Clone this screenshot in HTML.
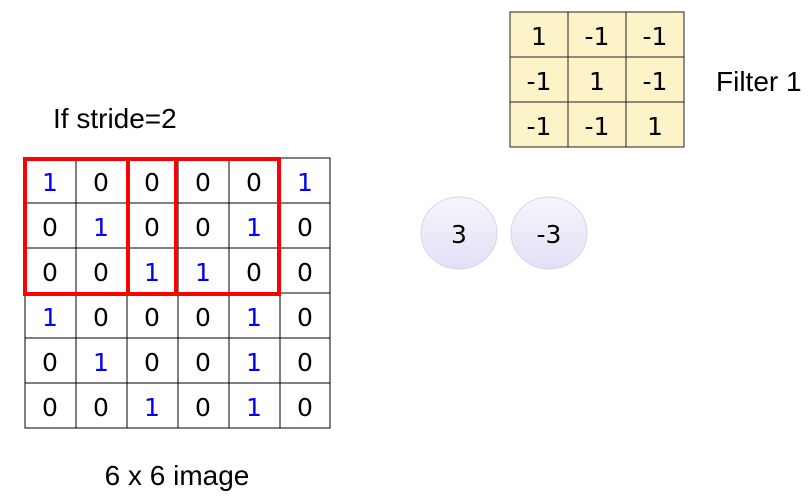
<!DOCTYPE html>
<html><head><style>body{margin:0;background:#fff}</style></head><body>
<svg width="810" height="495" xmlns="http://www.w3.org/2000/svg" font-family="Liberation Sans, sans-serif">
<defs><linearGradient id="g" x1="0" y1="0" x2="0" y2="1"><stop offset="0" stop-color="#f6f5fc"/><stop offset="1" stop-color="#e2e0f6"/></linearGradient></defs>
<g stroke="#000" stroke-width="1" fill="none">
<rect x="25" y="158" width="305" height="270"/>
<line x1="76" y1="158" x2="76" y2="428"/><line x1="127" y1="158" x2="127" y2="428"/><line x1="178" y1="158" x2="178" y2="428"/><line x1="229" y1="158" x2="229" y2="428"/><line x1="280" y1="158" x2="280" y2="428"/>
<line x1="25" y1="203" x2="330" y2="203"/><line x1="25" y1="248" x2="330" y2="248"/><line x1="25" y1="293" x2="330" y2="293"/><line x1="25" y1="338" x2="330" y2="338"/><line x1="25" y1="383" x2="330" y2="383"/>
</g>
<g font-size="25" text-anchor="middle" font-family="DejaVu Sans, sans-serif">
<text x="50" y="191" fill="#00f">1</text><text x="101" y="191">0</text><text x="152" y="191">0</text><text x="203" y="191">0</text><text x="254" y="191">0</text><text x="305" y="191" fill="#00f">1</text>
<text x="50" y="236">0</text><text x="101" y="236" fill="#00f">1</text><text x="152" y="236">0</text><text x="203" y="236">0</text><text x="254" y="236" fill="#00f">1</text><text x="305" y="236">0</text>
<text x="50" y="281">0</text><text x="101" y="281">0</text><text x="152" y="281" fill="#00f">1</text><text x="203" y="281" fill="#00f">1</text><text x="254" y="281">0</text><text x="305" y="281">0</text>
<text x="50" y="326" fill="#00f">1</text><text x="101" y="326">0</text><text x="152" y="326">0</text><text x="203" y="326">0</text><text x="254" y="326" fill="#00f">1</text><text x="305" y="326">0</text>
<text x="50" y="371">0</text><text x="101" y="371" fill="#00f">1</text><text x="152" y="371">0</text><text x="203" y="371">0</text><text x="254" y="371" fill="#00f">1</text><text x="305" y="371">0</text>
<text x="50" y="416">0</text><text x="101" y="416">0</text><text x="152" y="416" fill="#00f">1</text><text x="203" y="416">0</text><text x="254" y="416" fill="#00f">1</text><text x="305" y="416">0</text>
</g>
<g stroke="#f00" stroke-width="4" fill="none">
<rect x="25" y="159" width="103" height="135"/>
<rect x="128" y="159" width="48" height="135"/>
<rect x="176" y="159" width="103" height="135"/>
</g>
<rect x="510" y="12" width="174" height="135" fill="#fdf3c8" stroke="#222"/>
<g stroke="#222"><line x1="568" y1="12" x2="568" y2="147"/><line x1="626" y1="12" x2="626" y2="147"/><line x1="510" y1="57" x2="684" y2="57"/><line x1="510" y1="102" x2="684" y2="102"/></g>
<g font-size="25" text-anchor="middle" font-family="DejaVu Sans, sans-serif">
<text x="539" y="45">1</text><text x="597" y="45">-1</text><text x="655" y="45">-1</text>
<text x="539" y="90">-1</text><text x="597" y="90">1</text><text x="655" y="90">-1</text>
<text x="539" y="135">-1</text><text x="597" y="135">-1</text><text x="655" y="135">1</text>
</g>
<text x="716" y="91" font-size="28">Filter 1</text>
<text x="53" y="128" font-size="28">If stride=2</text>
<text x="177" y="485" font-size="28" text-anchor="middle">6 x 6 image</text>
<ellipse cx="459" cy="233" rx="38" ry="36" fill="url(#g)" stroke="#d8d6ec"/>
<ellipse cx="549" cy="233" rx="38" ry="36" fill="url(#g)" stroke="#d8d6ec"/>
<text x="459" y="243" font-size="25" text-anchor="middle" font-family="DejaVu Sans, sans-serif">3</text>
<text x="549" y="243" font-size="25" text-anchor="middle" font-family="DejaVu Sans, sans-serif">-3</text>
</svg>
</body></html>
